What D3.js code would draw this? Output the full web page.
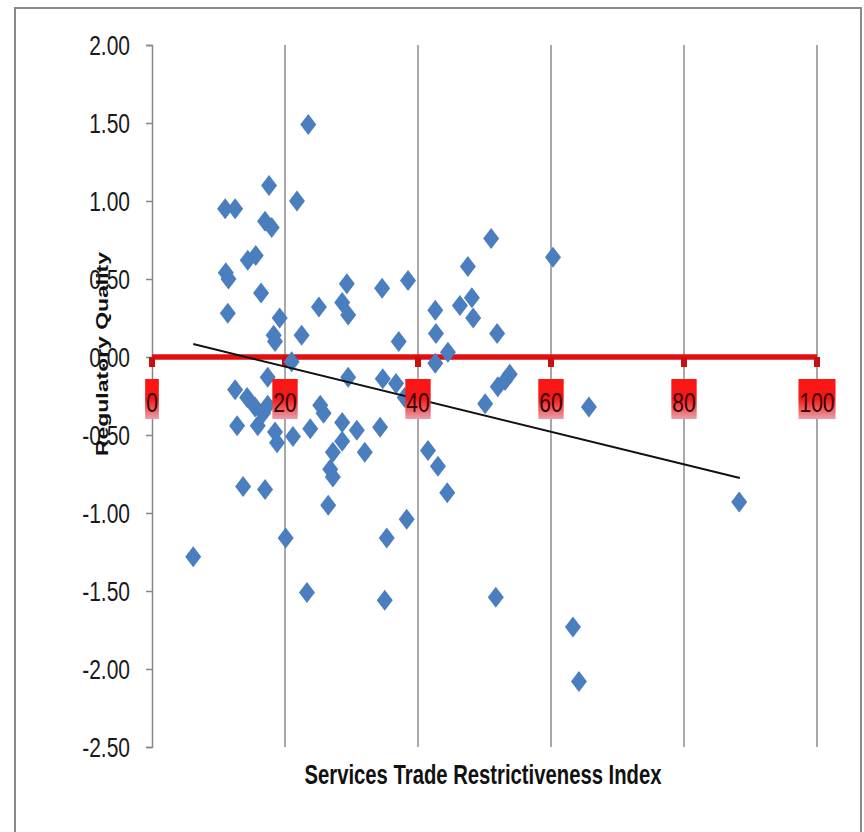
<!DOCTYPE html>
<html>
<head>
<meta charset="utf-8">
<script src="https://cdn.jsdelivr.net/npm/d3@7"></script>
<style>
  body { margin: 0; background: #fff; }
  svg { display: block; }
</style>
</head>
<body>
<div id="chart"></div>
<script>
// Services Trade Restrictiveness Index (x) vs Regulatory Quality (y)
const stri = [6.2, 11.0, 12.5, 11.1, 11.5, 11.4, 14.4, 15.6, 16.4, 17.0, 18.0, 17.6, 21.8, 23.5,
  19.2, 18.3, 18.5, 22.5, 25.1, 29.3, 28.6, 29.5, 34.6, 38.5, 37.1, 21.0, 17.4, 12.5, 14.3,
  15.5, 16.7, 17.4, 15.9, 12.8, 18.5, 18.8, 21.2, 20.7, 13.7, 17.0, 20.1, 23.3, 25.3, 25.8,
  23.8, 28.6, 30.8, 34.3, 32.0, 28.6, 27.2, 26.8, 27.2, 26.5, 29.5, 34.7, 36.7, 38.0, 38.3,
  35.3, 35.0, 41.5, 43.0, 44.4, 42.6, 44.5, 42.6, 42.7, 46.3, 48.1, 48.3, 47.5, 51.0, 51.9,
  60.3, 50.1, 52.0, 53.1, 53.8, 65.7, 51.7, 63.3, 64.2, 88.3];
const regQuality = [-1.28, 0.95, 0.95, 0.54, 0.50, 0.28, 0.62, 0.65, 0.41, 0.87, 0.83, 1.10, 1.00, 1.49,
  0.25, 0.14, 0.10, 0.14, 0.32, 0.47, 0.35, 0.27, 0.44, 0.49, 0.10, -0.03, -0.13, -0.21, -0.26,
  -0.32, -0.36, -0.31, -0.44, -0.44, -0.48, -0.55, -0.51, -0.26, -0.83, -0.85, -1.16, -1.51, -0.31, -0.36,
  -0.46, -0.42, -0.47, -0.45, -0.61, -0.54, -0.61, -0.72, -0.77, -0.95, -0.13, -0.14, -0.17, -0.26, -1.04,
  -1.16, -1.56, -0.60, -0.70, -0.87, -0.04, 0.03, 0.30, 0.15, 0.33, 0.38, 0.25, 0.58, 0.76, 0.15,
  0.64, -0.30, -0.19, -0.15, -0.11, -0.32, -1.54, -1.73, -2.08, -0.93];

// linear trend line end points
const trendX = [6.2, 88.4];
const trendY = [0.083, -0.776];

const xTicks = [0, 20, 40, 60, 80, 100];
const yTicks = [2, 1.5, 1, 0.5, 0, -0.5, -1, -1.5, -2, -2.5];

const width = 864;
const height = 832;

const svg = d3.select('#chart')
  .append('svg')
  .attr('width', width)
  .attr('height', height);

const x = d3.scaleLinear().domain([0, 100]).range([152, 817]);
const y = d3.scaleLinear().domain([-2.5, 2]).range([747, 45]);

const font = "'Liberation Sans', Arial, sans-serif";
const stretch = 1.35; // glyphs in the picture are tall and narrow

// outer frame
svg.append('rect')
  .attr('x', 15).attr('y', 8)
  .attr('width', 846).attr('height', 840)
  .attr('fill', 'none')
  .attr('stroke', '#8a8a8a')
  .attr('stroke-width', 2);

const defs = svg.append('defs');
const grad = defs.append('linearGradient')
  .attr('id', 'lblGrad')
  .attr('x1', 0).attr('y1', 0).attr('x2', 0).attr('y2', 1);
grad.append('stop').attr('offset', '0%').attr('stop-color', '#ff1414');
grad.append('stop').attr('offset', '50%').attr('stop-color', '#f01a1a');
grad.append('stop').attr('offset', '100%').attr('stop-color', '#eaa0aa');

// vertical gridlines
svg.append('g')
  .selectAll('line')
  .data(xTicks.filter(d => d > 0))
  .enter()
  .append('line')
  .attr('x1', d => x(d)).attr('x2', d => x(d))
  .attr('y1', y(2)).attr('y2', y(-2.5))
  .attr('stroke', '#8c8c8c')
  .attr('stroke-width', 1.5);

// y axis (line + ticks), labels drawn separately
const yAxis = d3.axisLeft(y)
  .tickValues(yTicks)
  .tickSize(6)
  .tickFormat('');

const gy = svg.append('g')
  .attr('transform', `translate(${x(0)},0)`)
  .call(yAxis);
gy.select('.domain').attr('stroke', '#868686').attr('stroke-width', 1.5);
gy.selectAll('.tick line').attr('stroke', '#868686').attr('stroke-width', 1.5);

const fmt = d3.format('.2f');
svg.append('g')
  .selectAll('text')
  .data(yTicks)
  .enter()
  .append('text')
  .attr('transform', d => `translate(130,${y(d) + 7.5 * stretch}) scale(1,${stretch})`)
  .attr('text-anchor', 'end')
  .attr('font-family', font)
  .attr('font-size', 21)
  .attr('fill', '#1a1a1a')
  .text(d => fmt(d).replace('\u2212', '-'));

// red horizontal axis at y = 0
svg.append('line')
  .attr('x1', x(0)).attr('x2', x(100))
  .attr('y1', y(0)).attr('y2', y(0))
  .attr('stroke', '#e01010')
  .attr('stroke-width', 5.5);

svg.append('g')
  .selectAll('rect')
  .data(xTicks)
  .enter()
  .append('rect')
  .attr('x', d => x(d) - 3)
  .attr('y', y(0))
  .attr('width', 6)
  .attr('height', 10)
  .attr('fill', '#c81010');

// points
const pts = stri.map((d, i) => ({ x: d, y: regQuality[i] }));
const diamond = (cx, cy) => {
  const p = d3.path();
  p.moveTo(cx, cy - 10.5);
  p.lineTo(cx + 8, cy);
  p.lineTo(cx, cy + 10.5);
  p.lineTo(cx - 8, cy);
  p.closePath();
  return p.toString();
};
svg.append('g')
  .selectAll('path')
  .data(pts)
  .enter()
  .append('path')
  .attr('d', d => diamond(x(d.x), y(d.y)))
  .attr('fill', '#4a7ebf');

// trend line
svg.append('line')
  .attr('x1', x(trendX[0])).attr('y1', y(trendY[0]))
  .attr('x2', x(trendX[1])).attr('y2', y(trendY[1]))
  .attr('stroke', '#111')
  .attr('stroke-width', 2);

// x tick labels in red boxes
const lbl = svg.append('g')
  .selectAll('g')
  .data(xTicks)
  .enter()
  .append('g')
  .attr('transform', d => `translate(${x(d)},0)`);

lbl.append('text')
  .attr('transform', `translate(0,412) scale(1,${stretch})`)
  .attr('text-anchor', 'middle')
  .attr('font-family', font)
  .attr('font-size', 21)
  .attr('fill', '#3c0000')
  .text(d => d)
  .each(function () {
    const w = this.getComputedTextLength();
    d3.select(this.parentNode).insert('rect', 'text')
      .attr('x', -w / 2 - 1)
      .attr('y', 379)
      .attr('width', w + 2)
      .attr('height', 40)
      .attr('fill', 'url(#lblGrad)');
  });

// axis titles
svg.append('text')
  .attr('transform', 'translate(483,784) scale(1,1.2)')
  .attr('text-anchor', 'middle')
  .attr('font-family', font)
  .attr('font-weight', 'bold')
  .attr('font-size', 23)
  .attr('textLength', 357)
  .attr('lengthAdjust', 'spacingAndGlyphs')
  .attr('fill', '#111')
  .text('Services Trade Restrictiveness Index');

svg.append('text')
  .attr('transform', 'translate(108,354) rotate(-90)')
  .attr('text-anchor', 'middle')
  .attr('font-family', font)
  .attr('font-weight', 'bold')
  .attr('font-size', 17)
  .attr('textLength', 204)
  .attr('lengthAdjust', 'spacingAndGlyphs')
  .attr('fill', '#111')
  .text('Regulatory Quality');
</script>
</body>
</html>
